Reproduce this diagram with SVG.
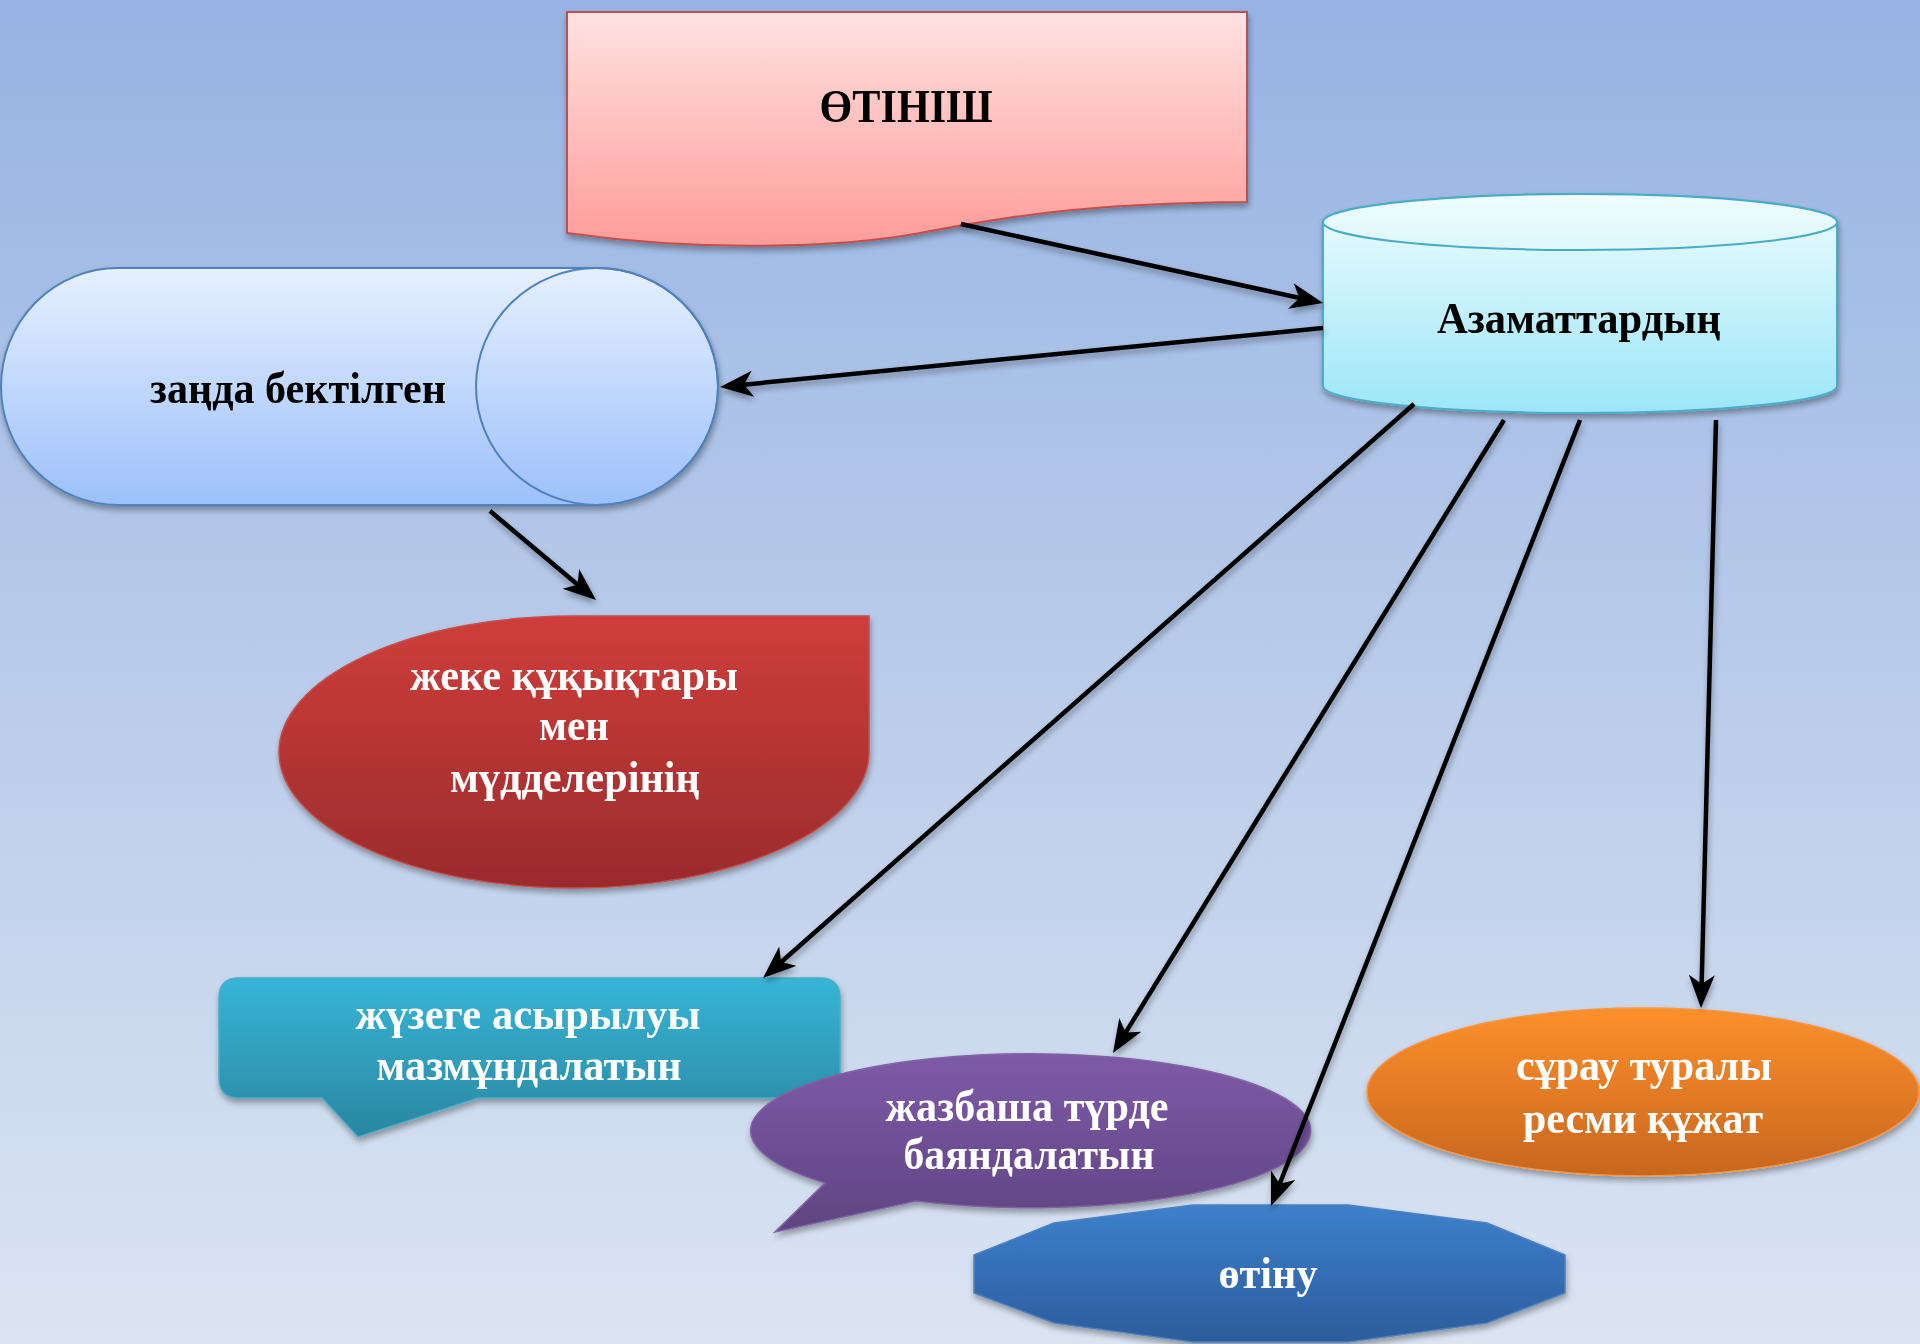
<svg xmlns="http://www.w3.org/2000/svg" width="1920" height="1344" viewBox="0 0 1920 1344">
  <defs>
    <linearGradient id="bg" x1="0" y1="0" x2="0" y2="1">
      <stop offset="0" stop-color="#97b3e3"/>
      <stop offset="1" stop-color="#dbe4f2"/>
    </linearGradient>
    <linearGradient id="gDoc" x1="0" y1="0" x2="0" y2="1">
      <stop offset="0" stop-color="#ffe2e2"/>
      <stop offset="1" stop-color="#ff9c98"/>
    </linearGradient>
    <linearGradient id="gCyl" x1="0" y1="0" x2="0" y2="1">
      <stop offset="0" stop-color="#eefcfe"/>
      <stop offset="1" stop-color="#9ce6f8"/>
    </linearGradient>
    <linearGradient id="gCylTop" x1="0" y1="0" x2="0" y2="1">
      <stop offset="0" stop-color="#f0fdfe"/>
      <stop offset="1" stop-color="#dcf7fc"/>
    </linearGradient>
    <linearGradient id="gHCyl" x1="0" y1="0" x2="0" y2="1">
      <stop offset="0" stop-color="#e6f0fe"/>
      <stop offset="1" stop-color="#9dc0fb"/>
    </linearGradient>
    <linearGradient id="gRed" x1="0" y1="0" x2="0" y2="1">
      <stop offset="0" stop-color="#cf3e3a"/>
      <stop offset="1" stop-color="#9a2b2c"/>
    </linearGradient>
    <linearGradient id="gTeal" x1="0" y1="0" x2="0" y2="1">
      <stop offset="0" stop-color="#37b5d7"/>
      <stop offset="1" stop-color="#2a86a0"/>
    </linearGradient>
    <linearGradient id="gPurple" x1="0" y1="0" x2="0" y2="1">
      <stop offset="0" stop-color="#7f5aa8"/>
      <stop offset="1" stop-color="#5e4482"/>
    </linearGradient>
    <linearGradient id="gBlue" x1="0" y1="0" x2="0" y2="1">
      <stop offset="0" stop-color="#3d80cd"/>
      <stop offset="1" stop-color="#2c5c9c"/>
    </linearGradient>
    <linearGradient id="gOrange" x1="0" y1="0" x2="0" y2="1">
      <stop offset="0" stop-color="#fe902b"/>
      <stop offset="1" stop-color="#c8661e"/>
    </linearGradient>
    <filter id="sh" x="-10%" y="-10%" width="120%" height="130%">
      <feGaussianBlur in="SourceAlpha" stdDeviation="3"/>
      <feOffset dx="1" dy="4" result="b"/>
      <feComponentTransfer><feFuncA type="linear" slope="0.35"/></feComponentTransfer>
      <feMerge><feMergeNode/><feMergeNode in="SourceGraphic"/></feMerge>
    </filter>
    <marker id="ah" markerUnits="userSpaceOnUse" markerWidth="36" markerHeight="28" refX="22" refY="13" orient="auto">
      <path d="M0,0 L33,13 L0,26 L9,13 Z" fill="#000"/>
    </marker>
    <style>
      .t { font-family: "Liberation Serif", "Times New Roman", serif; font-weight: bold; text-anchor: middle; }
      .dark { fill: #000; }
      .light { fill: #fff; }
      .conn { stroke: #000; stroke-width: 4.5; fill: none; marker-end: url(#ah); }
    </style>
  </defs>

  <rect x="0" y="0" width="1920" height="1344" fill="url(#bg)"/>

  <g id="node-otinish" filter="url(#sh)">
    <path d="M567,12 L1247,12 L1247,202 C1080,203 1000,218 920,233 C840,248 700,252 567,233 Z" fill="url(#gDoc)" stroke="#c0504d" stroke-width="2"/>
    <text class="t dark" x="906" y="122" font-size="46" textLength="173" lengthAdjust="spacingAndGlyphs">ӨТІНІШ</text>
  </g>

  <g id="node-azamat" filter="url(#sh)">
    <path d="M1323,222 L1323,386 A257,27 0 0 0 1837,386 L1837,222 A257,28 0 0 0 1323,222 Z" fill="url(#gCyl)" stroke="#4bacc6" stroke-width="2"/>
    <ellipse cx="1580" cy="222" rx="257" ry="28" fill="url(#gCylTop)" stroke="#4bacc6" stroke-width="2"/>
    <text class="t dark" x="1579" y="333" font-size="44" textLength="284" lengthAdjust="spacingAndGlyphs">Азаматтардың</text>
  </g>

  <g id="node-zanda" filter="url(#sh)">
    <path d="M118,268 L597,268 A121,118.5 0 0 1 597,505 L118,505 A117,118.5 0 0 1 118,268 Z" fill="url(#gHCyl)" stroke="#4f81bd" stroke-width="2"/>
    <ellipse cx="597" cy="386.5" rx="121" ry="118.5" fill="none" stroke="#4f81bd" stroke-width="2"/>
    <text class="t dark" x="298" y="403" font-size="44" textLength="296" lengthAdjust="spacingAndGlyphs">заңда бектілген</text>
  </g>

  <g id="node-zheke" filter="url(#sh)">
    <path d="M574,616 L869,616 L869,752 A295,136 0 1 1 574,616 Z" fill="url(#gRed)" stroke="#c0504d" stroke-width="1.5"/>
    <text class="t light" x="574" y="690" font-size="44" textLength="328" lengthAdjust="spacingAndGlyphs">жеке құқықтары</text>
    <text class="t light" x="574" y="740" font-size="44" textLength="70" lengthAdjust="spacingAndGlyphs">мен</text>
    <text class="t light" x="575" y="792" font-size="44" textLength="250" lengthAdjust="spacingAndGlyphs">мүдделерінің</text>
  </g>

  <g id="node-zhuzege" filter="url(#sh)">
    <path d="M239,978 H820 Q840,978 840,998 V1078 Q840,1098 820,1098 H478 L358,1137 L322,1098 H239 Q219,1098 219,1078 V998 Q219,978 239,978 Z" fill="url(#gTeal)" stroke="#4bacc6" stroke-width="1.5"/>
    <text class="t light" x="528" y="1029" font-size="44" textLength="345" lengthAdjust="spacingAndGlyphs">жүзеге асырылуы</text>
    <text class="t light" x="529" y="1080" font-size="44" textLength="305" lengthAdjust="spacingAndGlyphs">мазмұндалатын</text>
  </g>

  <g id="node-zhazbasha" filter="url(#sh)">
    <path d="M825,1183 A280,77 0 1 1 916,1201 L775,1232 Z" fill="url(#gPurple)" stroke="#8064a2" stroke-width="1.5"/>
    <text class="t light" x="1027" y="1121" font-size="44" textLength="283" lengthAdjust="spacingAndGlyphs">жазбаша түрде</text>
    <text class="t light" x="1029" y="1169" font-size="44" textLength="251" lengthAdjust="spacingAndGlyphs">баяндалатын</text>
  </g>

  <g id="node-otinu" filter="url(#sh)">
    <polygon points="1193,1205 1348,1205 1487,1223 1565,1255 1565,1293 1487,1323 1348,1342 1193,1342 1054,1323 974,1293 974,1255 1054,1223" fill="url(#gBlue)" stroke="#4f81bd" stroke-width="1.5"/>
    <text class="t light" x="1268" y="1288" font-size="45" textLength="99" lengthAdjust="spacingAndGlyphs">өтіну</text>
  </g>

  <g id="node-surau" filter="url(#sh)">
    <ellipse cx="1643" cy="1092" rx="276" ry="84" fill="url(#gOrange)" stroke="#f79646" stroke-width="1.5"/>
    <text class="t light" x="1644" y="1080" font-size="44" textLength="256" lengthAdjust="spacingAndGlyphs">сұрау туралы</text>
    <text class="t light" x="1643" y="1133" font-size="44" textLength="240" lengthAdjust="spacingAndGlyphs">ресми құжат</text>
  </g>

  <g id="connectors" filter="url(#sh)">
    <line class="conn" x1="961" y1="224" x2="1312.3" y2="300.7"/>
    <line class="conn" x1="1323" y1="328" x2="731" y2="385.9"/>
    <line class="conn" x1="490" y1="511" x2="587.6" y2="593"/>
    <line class="conn" x1="1414" y1="404" x2="771.3" y2="970.7"/>
    <line class="conn" x1="1504" y1="420" x2="1118.8" y2="1043.6"/>
    <line class="conn" x1="1580" y1="420" x2="1275" y2="1195.8"/>
    <line class="conn" x1="1716" y1="420" x2="1701.3" y2="997"/>
  </g>
</svg>
